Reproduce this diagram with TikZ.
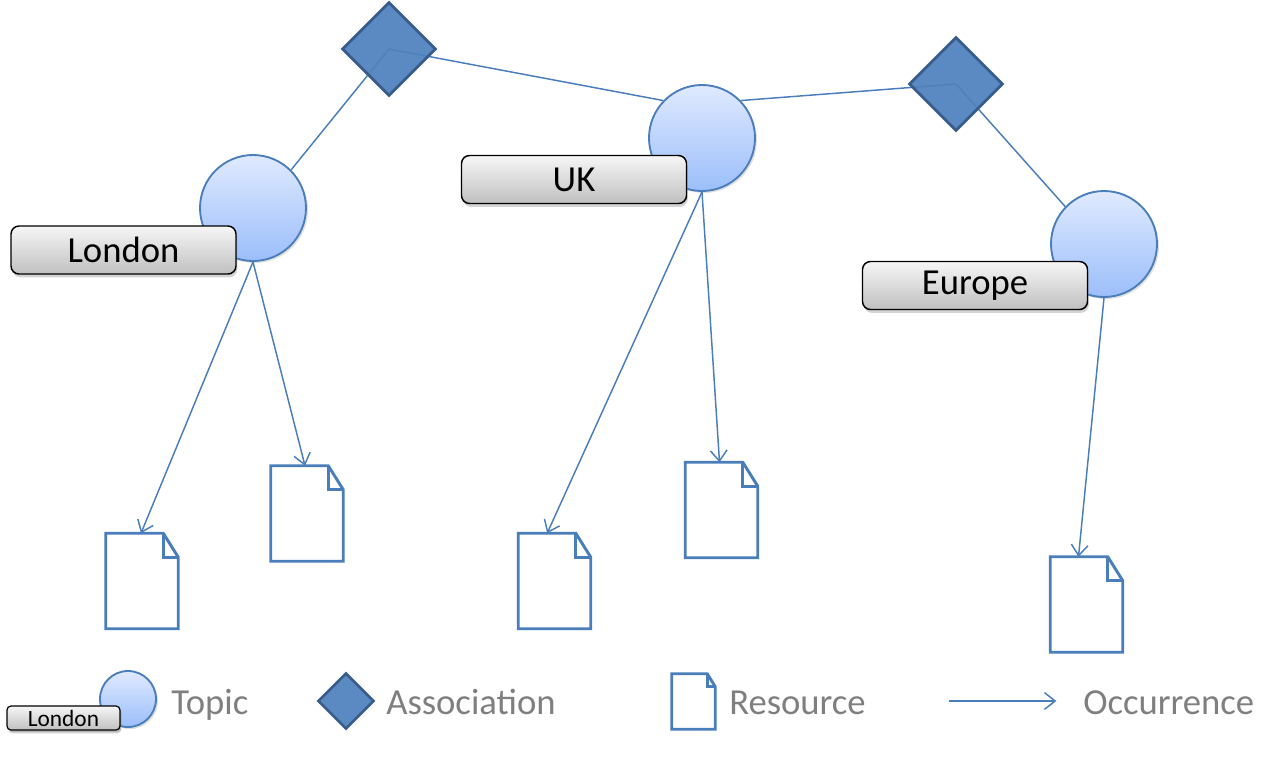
\documentclass[tikz,border=0pt]{standalone}
\usepackage{fontspec}
\setmainfont{Carlito}
\usetikzlibrary{shapes.geometric,arrows.meta,shadows}
\definecolor{blueline}{RGB}{74,126,187}
\definecolor{assocfill}{RGB}{79,129,189}
\definecolor{assocdraw}{RGB}{56,93,138}
\definecolor{topictop}{RGB}{224,234,255}
\definecolor{topicbot}{RGB}{155,190,250}
\definecolor{lbltop}{RGB}{246,246,246}
\definecolor{lblbot}{RGB}{192,192,192}
\definecolor{legtextc}{RGB}{127,127,127}
\tikzset{
  assoc/.style={diamond, aspect=1, inner sep=0pt, minimum size=70.5pt, fill=assocfill, fill opacity=0.93, draw=assocdraw, draw opacity=1, line width=2.2pt},
  topic/.style={circle, inner sep=0pt, minimum size=79.5pt, top color=topictop, bottom color=topicbot, draw=blueline, line width=1.4pt, drop shadow={shadow xshift=1.5pt, shadow yshift=-1.5pt, opacity=0.25}},
  lbl/.style={rectangle, rounded corners=6pt, inner sep=0pt, minimum width=168.75pt, minimum height=36pt, top color=lbltop, bottom color=lblbot, draw=black, line width=1.1pt, font=\fontsize{27.5}{32}\selectfont, drop shadow={shadow xshift=1pt, shadow yshift=-2.5pt, opacity=0.35}},
  doc/.style={rectangle, inner sep=0pt, minimum width=54pt, minimum height=71.25pt},
  docline/.style={draw=blueline, line width=2.2pt, line join=miter},
  assocline/.style={draw=blueline, line width=1.1pt},
  occ/.style={draw=blueline, line width=1.1pt, -{Straight Barb[length=8pt,width=12.5pt,line width=1.1pt]}},
  legtext/.style={text=legtextc, inner sep=0pt, anchor=base west, font=\fontsize{27.5}{33}\selectfont}
}
\newcommand\docpath[3]{%
  \draw[docline] (#1.south west) -- (#1.north west) -- ([xshift=-#2]#1.north east) -- ([yshift=-#3]#1.north east) -- (#1.south east) -- cycle;
  \draw[docline] ([xshift=-#2]#1.north east) -- ([xshift=-#2,yshift=-#3]#1.north east) -- ([yshift=-#3]#1.north east);}
\begin{document}
\begin{tikzpicture}[x=0.75pt,y=-0.75pt]
\useasboundingbox (0,0) rectangle (1282,758);
% coordinates for line ends
\coordinate (a1c) at (389,49);
\coordinate (a2c) at (956,84);
\node[topic] (london) at (253,208) {};
\node[topic] (uk) at (702,138) {};
\node[topic] (europe) at (1104,244) {};
% association lines
\draw[assocline] (a1c) -- (london.45);
\draw[assocline] (a1c) -- (uk.136);
\draw[assocline] (a2c) -- (uk.44);
\draw[assocline] (a2c) -- (europe.136);
% associations
\node[assoc] (a1) at (a1c) {};
\node[assoc] (a2) at (a2c) {};
% labels
\node[lbl] (llondon) at (123.5,250) {London};
\node[lbl] (luk) at (574,179.5) {UK};
\node[lbl] (leurope) at (975,285.5) {Europe};
% documents
\node[doc] (d1) at (142,581) {};
\node[doc] (d2) at (307,513.5) {};
\node[doc] (d3) at (554.5,581) {};
\node[doc] (d4) at (721.5,510) {};
\node[doc] (d5) at (1086.5,604.5) {};
\docpath{d1}{11.25pt}{18pt}
\docpath{d2}{11.25pt}{18pt}
\docpath{d3}{11.25pt}{18pt}
\docpath{d4}{11.25pt}{18pt}
\docpath{d5}{11.25pt}{18pt}
% occurrences
\draw[occ] (london.south) -- ([xshift=-0.75pt]d1.north);
\draw[occ] (london.south) -- ([xshift=-1.5pt]d2.north);
\draw[occ] (uk.south) -- ([xshift=-5.5pt]d3.north);
\draw[occ] (uk.south) -- ([xshift=-1.5pt]d4.north);
\draw[occ] (europe.south) -- ([xshift=-6pt]d5.north);
% legend
\node[topic, minimum size=42pt] (ltopic) at (128,699) {};
\node[lbl, minimum width=84.75pt, minimum height=18pt, rounded corners=3pt, line width=0.9pt, font=\fontsize{17.5}{20}\selectfont, drop shadow={shadow xshift=1pt, shadow yshift=-1.5pt, opacity=0.35}] (llbl) at (63.5,718) {London};
\node[legtext] (ttopic) at (171,714) {Topic};
\node[assoc, minimum size=42pt, line width=2pt] (lassoc) at (346,701) {};
\node[legtext] (tassoc) at (386,714) {Association};
\node[doc, minimum width=32.25pt, minimum height=41.25pt] (ldoc) at (693.5,701.5) {};
\docpath{ldoc}{6pt}{9.75pt}
\node[legtext] (tres) at (729,714) {Resource};
\coordinate (occa) at (949,701);
\node[legtext] (tocc) at (1083,714) {Occurrence};
\draw[occ] (occa) -- ([xshift=-20pt]tocc.west |- occa);
\end{tikzpicture}
\end{document}
